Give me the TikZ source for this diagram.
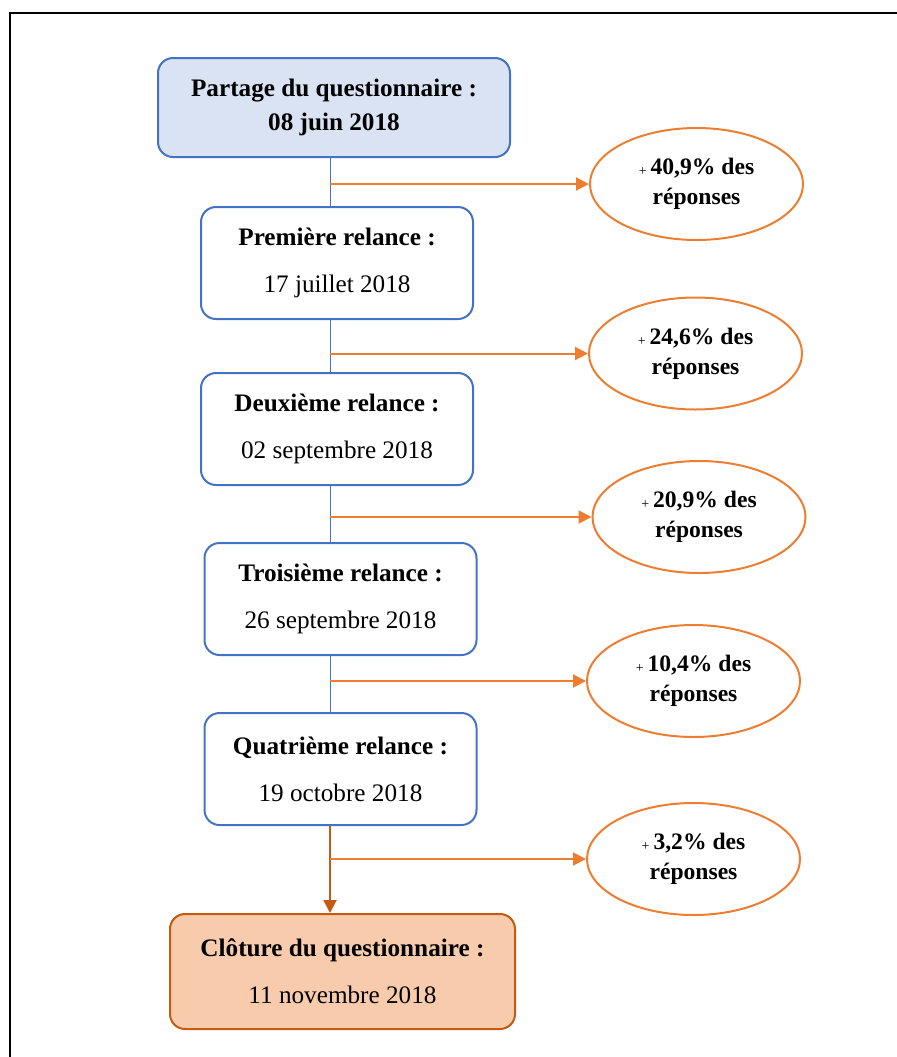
\documentclass[tikz,border=0pt]{standalone}
\usepackage{fontspec}
\setmainfont{Liberation Serif}
\usetikzlibrary{shapes.geometric,arrows.meta}
\definecolor{bleu}{HTML}{4472C4}
\definecolor{bleuclair}{HTML}{DAE3F3}
\definecolor{orangevif}{HTML}{ED7D31}
\definecolor{orangefonce}{HTML}{C55A11}
\definecolor{peche}{HTML}{F8CBAD}
\tikzset{
    etape/.style={rectangle,rounded corners=7.5pt,draw=bleu,line width=1pt,minimum width=136pt,minimum height=56pt,align=center,font=\fontsize{12.6}{15}\selectfont},
    debut/.style={etape,fill=bleuclair,minimum width=176pt,minimum height=49.5pt},
    fin/.style={etape,draw=orangefonce,fill=peche,minimum width=172.5pt,minimum height=57.5pt},
    bulle/.style={ellipse,draw=orangevif,line width=1pt,minimum width=106.5pt,minimum height=56pt,inner sep=0,align=center,font=\bfseries\fontsize{11.8}{15}\selectfont},
    lien/.style={draw=bleu,line width=0.5pt},
    fleche/.style={draw=orangevif,line width=1pt,-{Triangle[length=6.5pt,width=6.5pt]}}
}
\newcommand{\plus}{\raisebox{-0.5pt}{\fontsize{7}{7}\selectfont\mdseries +}\,}

\begin{document}
\begin{tikzpicture}[x=0.5pt,y=-0.5pt]
    \useasboundingbox (0,0) rectangle (897,1057);
    \draw[line width=1.4pt] (10,1057) -- (10,13) -- (897,13);
    \coordinate (spine) at (330,0);
    % etapes
    \node[debut] (partage) at (334,107.5) {\textbf{Partage du questionnaire :}\\[2pt]\textbf{08 juin 2018}};
    \node[etape] (relance1) at (337,263) {\textbf{Première relance :}\\[8.5pt]17 juillet 2018};
    \node[etape] (relance2) at (337,429) {\textbf{Deuxième relance :}\\[8.5pt]02 septembre 2018};
    \node[etape] (relance3) at (340.5,599) {\textbf{Troisième relance :}\\[8.5pt]26 septembre 2018};
    \node[etape] (relance4) at (340.5,769) {\textbf{Quatrième relance :}\\[8.5pt]19 octobre 2018};
    \node[fin] (cloture) at (342.5,971.5) {\textbf{Clôture du questionnaire :}\\[8.5pt]11 novembre 2018};
    % reponses
    \node[bulle] (rep1) at (696.5,184) {\plus 40,9\% des\\réponses};
    \node[bulle] (rep2) at (695.5,353.5) {\plus 24,6\% des\\réponses};
    \node[bulle] (rep3) at (699,517) {\plus 20,9\% des\\réponses};
    \node[bulle] (rep4) at (693.5,681) {\plus 10,4\% des\\réponses};
    \node[bulle] (rep5) at (693.5,859) {\plus 3,2\% des\\réponses};
    % liens
    \draw[lien] (partage.south -| spine) -- (relance1.north -| spine);
    \draw[lien] (relance1.south -| spine) -- (relance2.north -| spine);
    \draw[lien] (relance2.south -| spine) -- (relance3.north -| spine);
    \draw[lien] (relance3.south -| spine) -- (relance4.north -| spine);
    \draw[fleche,draw=orangefonce] (relance4.south -| spine) -- (cloture.north -| spine);
    \foreach \r in {rep1,rep2,rep3,rep4,rep5}
        \draw[fleche] (\r.west -| spine) -- (\r.west);
\end{tikzpicture}
\end{document}
